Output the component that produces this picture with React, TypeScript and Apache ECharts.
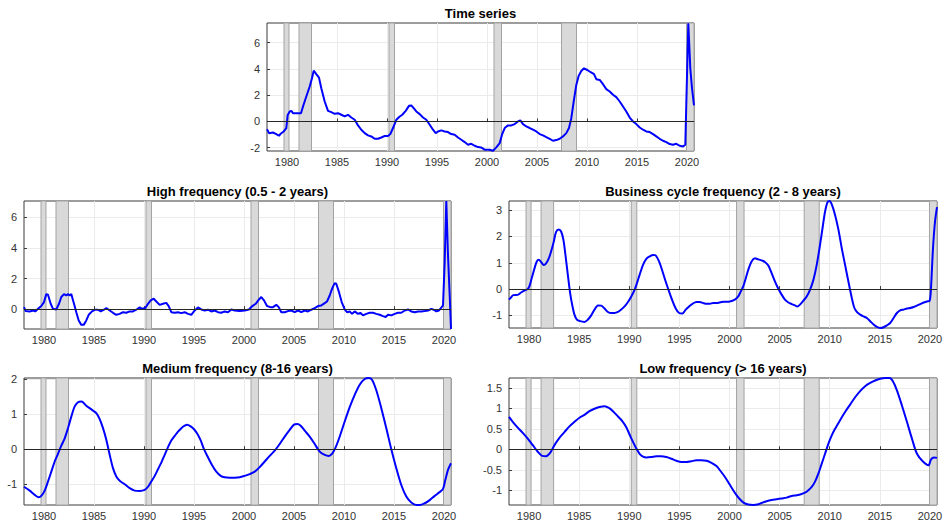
import { useEffect, useRef } from "react";
import * as echarts from "echarts";

const xTickValues = [1980, 1985, 1990, 1995, 2000, 2005, 2010, 2015, 2020];
const tsTicks = [-2, 0, 2, 4, 6];
const highTicks = [0, 2, 4, 6];
const bizTicks = [-1, 0, 1, 2, 3];
const medTicks = [-1, 0, 1, 2];
const lowTicks = [-1, -0.5, 0, 0.5, 1, 1.5];

const recessionStarts = [1979.7, 1981.2, 1990.2, 2000.7, 2007.45, 2019.95];
const recessionEnds = [1980.2, 1982.45, 1990.75, 2001.45, 2008.95, 2020.7];

const timeSeries: [number, number][] = [
  [1978.0,-0.6],[1978.2,-0.89],[1978.6,-0.84],[1978.93,-0.96],[1979.2,-1.09],[1979.33,-0.96],[1979.67,-0.76],[1979.93,-0.5],[1980.07,0.5],[1980.27,0.76],[1980.43,0.81],[1980.6,0.63],[1980.93,0.63],[1981.4,0.63],[1981.6,1.14],[1981.93,1.9],[1982.27,2.66],[1982.5,3.29],[1982.67,3.87],[1982.93,3.6],[1983.2,3.34],[1983.43,2.53],[1983.77,1.52],[1984.1,0.81],[1984.43,0.71],[1984.77,0.58],[1985.1,0.63],[1985.43,0.51],[1985.77,0.38],[1986.1,0.51],[1986.43,0.3],[1986.77,0.13],[1987.1,-0.3],[1987.43,-0.63],[1987.77,-0.89],[1988.1,-1.06],[1988.43,-1.14],[1988.77,-1.32],[1989.1,-1.32],[1989.43,-1.22],[1989.77,-1.11],[1990.1,-1.11],[1990.33,-0.96],[1990.6,-0.5],[1990.93,0.13],[1991.27,0.38],[1991.53,0.51],[1991.87,0.81],[1992.2,1.19],[1992.43,1.22],[1992.67,1.01],[1992.93,0.76],[1993.27,0.56],[1993.6,0.3],[1993.93,0.13],[1994.27,-0.25],[1994.6,-0.63],[1994.87,-0.89],[1995.1,-0.76],[1995.43,-0.68],[1995.77,-0.76],[1996.1,-0.81],[1996.43,-0.96],[1996.77,-1.01],[1997.1,-1.22],[1997.43,-1.39],[1997.77,-1.57],[1998.1,-1.77],[1998.43,-1.7],[1998.77,-1.85],[1999.1,-1.95],[1999.4,-1.98],[1999.77,-2.15],[2000.27,-2.15],[2000.6,-2.23],[2000.93,-1.97],[2001.27,-1.65],[2001.5,-1.01],[2001.77,-0.5],[2002.1,-0.3],[2002.43,-0.3],[2002.77,-0.2],[2003.1,0.0],[2003.33,0.08],[2003.6,-0.2],[2003.93,-0.38],[2004.27,-0.5],[2004.6,-0.63],[2004.93,-0.76],[2005.27,-0.96],[2005.6,-1.06],[2005.93,-1.19],[2006.27,-1.32],[2006.6,-1.47],[2006.93,-1.42],[2007.27,-1.32],[2007.6,-1.14],[2007.93,-0.89],[2008.2,-0.5],[2008.43,0.25],[2008.67,1.52],[2008.93,2.78],[2009.17,3.49],[2009.43,3.85],[2009.7,4.05],[2010.03,3.92],[2010.37,3.75],[2010.7,3.6],[2010.93,3.22],[2011.27,3.16],[2011.6,2.84],[2011.93,2.46],[2012.27,2.28],[2012.6,2.03],[2012.93,1.85],[2013.27,1.52],[2013.6,1.14],[2013.93,0.76],[2014.27,0.3],[2014.6,0.0],[2014.93,-0.2],[2015.27,-0.46],[2015.6,-0.63],[2015.93,-0.76],[2016.27,-0.81],[2016.6,-0.96],[2016.93,-1.14],[2017.27,-1.32],[2017.6,-1.47],[2017.93,-1.57],[2018.27,-1.72],[2018.6,-1.77],[2018.93,-1.7],[2019.27,-1.85],[2019.6,-1.9],[2019.83,-1.77],[2020.13,7.47],[2020.33,4.05],[2020.5,2.53],[2020.7,1.22]
];

const highFreq: [number, number][] = [
  [1978.0,0.13],[1978.17,-0.13],[1978.57,-0.15],[1978.9,-0.09],[1979.13,-0.15],[1979.4,0.02],[1979.73,0.2],[1980.0,0.46],[1980.23,0.98],[1980.4,0.94],[1980.67,0.35],[1980.9,0.02],[1981.23,-0.02],[1981.5,0.35],[1981.73,0.79],[1982.0,0.98],[1982.23,0.89],[1982.4,0.98],[1982.57,0.89],[1982.73,0.98],[1983.0,0.35],[1983.23,-0.2],[1983.47,-0.74],[1983.73,-1.03],[1983.97,-1.03],[1984.23,-0.74],[1984.47,-0.37],[1984.8,-0.15],[1985.13,-0.04],[1985.4,-0.04],[1985.67,-0.15],[1986.0,-0.04],[1986.23,0.07],[1986.57,-0.09],[1986.9,-0.24],[1987.23,-0.37],[1987.57,-0.31],[1987.9,-0.2],[1988.23,-0.24],[1988.57,-0.15],[1988.9,-0.15],[1989.23,-0.04],[1989.57,0.11],[1989.8,0.02],[1990.13,0.07],[1990.4,0.35],[1990.67,0.57],[1990.97,0.68],[1991.23,0.5],[1991.57,0.28],[1991.9,0.35],[1992.23,0.41],[1992.47,0.2],[1992.73,-0.2],[1993.07,-0.24],[1993.4,-0.2],[1993.73,-0.26],[1994.07,-0.2],[1994.4,-0.31],[1994.73,-0.37],[1995.07,-0.09],[1995.4,0.11],[1995.73,-0.02],[1996.07,-0.09],[1996.4,-0.04],[1996.73,-0.15],[1997.07,-0.09],[1997.4,-0.2],[1997.73,-0.24],[1998.07,-0.15],[1998.4,-0.2],[1998.73,-0.02],[1999.07,-0.09],[1999.57,-0.13],[2000.07,-0.09],[2000.5,-0.02],[2000.83,0.2],[2001.17,0.35],[2001.5,0.63],[2001.73,0.79],[2002.0,0.57],[2002.3,0.2],[2002.63,0.13],[2002.9,0.13],[2003.23,0.28],[2003.47,0.13],[2003.73,-0.2],[2004.07,-0.2],[2004.4,-0.13],[2004.73,-0.09],[2005.07,-0.2],[2005.4,-0.09],[2005.73,-0.2],[2006.07,-0.09],[2006.4,-0.15],[2006.73,-0.04],[2007.07,0.07],[2007.4,0.2],[2007.73,0.24],[2008.07,0.39],[2008.3,0.5],[2008.57,0.89],[2008.83,1.37],[2009.07,1.7],[2009.23,1.66],[2009.5,1.11],[2009.77,0.46],[2010.07,-0.02],[2010.3,-0.2],[2010.57,-0.15],[2010.8,-0.31],[2011.07,-0.15],[2011.4,-0.31],[2011.63,-0.24],[2011.9,-0.41],[2012.23,-0.31],[2012.57,-0.24],[2012.9,-0.24],[2013.23,-0.31],[2013.57,-0.37],[2013.9,-0.46],[2014.17,-0.52],[2014.4,-0.37],[2014.73,-0.41],[2015.07,-0.31],[2015.4,-0.24],[2015.73,-0.24],[2016.07,-0.09],[2016.4,-0.02],[2016.73,-0.15],[2017.07,-0.2],[2017.4,-0.15],[2017.73,-0.15],[2018.07,-0.13],[2018.4,-0.09],[2018.73,0.02],[2018.97,-0.04],[2019.23,-0.15],[2019.5,-0.09],[2019.77,0.13],[2019.9,0.24],[2020.07,3.08],[2020.23,7.07],[2020.4,3.51],[2020.57,0.89],[2020.7,-1.3]
];

const businessCycle: [number, number][] = [
  [1978.0,-0.4],[1978.2,-0.32],[1978.43,-0.23],[1978.87,-0.22],[1979.2,-0.13],[1979.53,-0.06],[1979.87,0.0],[1980.03,0.1],[1980.27,0.42],[1980.53,0.77],[1980.77,1.05],[1980.97,1.12],[1981.2,1.03],[1981.47,0.92],[1981.7,0.98],[1981.97,1.17],[1982.2,1.43],[1982.47,1.81],[1982.7,2.18],[1982.97,2.27],[1983.2,2.19],[1983.43,1.87],[1983.63,1.3],[1983.87,0.54],[1984.1,-0.15],[1984.3,-0.59],[1984.53,-0.97],[1984.77,-1.16],[1985.1,-1.22],[1985.53,-1.25],[1985.87,-1.16],[1986.2,-1.0],[1986.53,-0.78],[1986.87,-0.62],[1987.2,-0.63],[1987.53,-0.74],[1987.87,-0.87],[1988.2,-0.91],[1988.53,-0.91],[1988.87,-0.87],[1989.2,-0.78],[1989.53,-0.66],[1989.87,-0.49],[1990.2,-0.28],[1990.53,-0.03],[1990.77,0.23],[1991.03,0.54],[1991.37,0.92],[1991.7,1.15],[1992.03,1.24],[1992.37,1.3],[1992.63,1.28],[1992.97,1.05],[1993.3,0.69],[1993.63,0.29],[1993.97,-0.09],[1994.3,-0.44],[1994.63,-0.74],[1994.97,-0.91],[1995.3,-0.93],[1995.63,-0.78],[1995.97,-0.66],[1996.3,-0.56],[1996.7,-0.49],[1997.03,-0.49],[1997.37,-0.53],[1997.7,-0.56],[1998.03,-0.56],[1998.37,-0.53],[1998.7,-0.53],[1999.2,-0.49],[1999.53,-0.48],[2000.03,-0.47],[2000.53,-0.4],[2000.87,-0.28],[2001.1,-0.11],[2001.37,0.1],[2001.63,0.42],[2001.87,0.73],[2002.2,1.05],[2002.53,1.17],[2002.87,1.13],[2003.2,1.09],[2003.53,1.03],[2003.87,0.9],[2004.2,0.61],[2004.53,0.29],[2004.87,0.01],[2005.2,-0.21],[2005.53,-0.4],[2005.87,-0.51],[2006.2,-0.57],[2006.53,-0.62],[2006.77,-0.66],[2007.03,-0.59],[2007.37,-0.44],[2007.7,-0.28],[2008.03,-0.03],[2008.37,0.35],[2008.7,0.92],[2009.03,1.68],[2009.3,2.37],[2009.53,2.94],[2009.77,3.3],[2009.97,3.35],[2010.2,3.22],[2010.53,2.82],[2010.87,2.25],[2011.2,1.55],[2011.53,0.92],[2011.87,0.27],[2012.2,-0.34],[2012.43,-0.69],[2012.7,-0.87],[2013.03,-0.97],[2013.37,-1.04],[2013.7,-1.1],[2014.03,-1.22],[2014.37,-1.35],[2014.7,-1.44],[2015.03,-1.48],[2015.37,-1.45],[2015.7,-1.38],[2016.03,-1.29],[2016.37,-1.1],[2016.7,-0.91],[2017.03,-0.81],[2017.37,-0.78],[2017.7,-0.74],[2018.03,-0.72],[2018.37,-0.68],[2018.7,-0.63],[2019.03,-0.57],[2019.37,-0.51],[2019.7,-0.47],[2019.97,-0.44],[2020.1,0.04],[2020.3,1.55],[2020.5,2.56],[2020.7,3.12]
];

const mediumFreq: [number, number][] = [
  [1978.0,-1.07],[1978.57,-1.18],[1979.07,-1.3],[1979.47,-1.37],[1979.73,-1.33],[1980.07,-1.18],[1980.4,-0.92],[1980.73,-0.64],[1981.07,-0.35],[1981.4,-0.13],[1981.73,0.1],[1982.07,0.31],[1982.4,0.6],[1982.73,0.93],[1983.07,1.22],[1983.4,1.34],[1983.73,1.36],[1983.9,1.34],[1984.23,1.24],[1984.57,1.17],[1984.9,1.1],[1985.23,1.03],[1985.57,0.86],[1985.9,0.6],[1986.23,0.27],[1986.57,-0.16],[1986.9,-0.54],[1987.23,-0.78],[1987.57,-0.9],[1988.07,-1.0],[1988.57,-1.11],[1989.07,-1.18],[1989.57,-1.19],[1990.07,-1.16],[1990.4,-1.07],[1990.73,-0.92],[1991.07,-0.76],[1991.4,-0.57],[1991.73,-0.38],[1992.07,-0.16],[1992.4,0.06],[1992.73,0.25],[1993.07,0.38],[1993.4,0.5],[1993.73,0.6],[1994.07,0.67],[1994.33,0.7],[1994.67,0.65],[1995.0,0.57],[1995.33,0.44],[1995.67,0.25],[1996.0,0.0],[1996.4,-0.23],[1996.8,-0.45],[1997.23,-0.64],[1997.67,-0.76],[1998.07,-0.8],[1998.57,-0.81],[1999.07,-0.81],[1999.57,-0.8],[2000.07,-0.76],[2000.57,-0.71],[2001.07,-0.64],[2001.57,-0.51],[2002.07,-0.35],[2002.57,-0.19],[2003.07,-0.04],[2003.57,0.15],[2004.07,0.36],[2004.57,0.55],[2005.0,0.7],[2005.33,0.72],[2005.67,0.67],[2006.07,0.53],[2006.57,0.36],[2007.07,0.15],[2007.57,-0.07],[2008.07,-0.16],[2008.47,-0.19],[2008.8,-0.13],[2009.13,0.03],[2009.57,0.36],[2010.07,0.79],[2010.57,1.2],[2011.07,1.55],[2011.57,1.84],[2012.07,2.0],[2012.47,2.03],[2012.8,1.98],[2013.23,1.68],[2013.73,1.17],[2014.23,0.6],[2014.73,0.0],[2015.23,-0.54],[2015.73,-1.02],[2016.23,-1.35],[2016.73,-1.52],[2017.23,-1.59],[2017.57,-1.59],[2018.07,-1.54],[2018.57,-1.45],[2019.07,-1.33],[2019.57,-1.22],[2019.9,-1.13],[2020.13,-0.88],[2020.4,-0.59],[2020.7,-0.4]
];

const lowFreq: [number, number][] = [
  [1978.0,0.79],[1978.37,0.67],[1978.87,0.53],[1979.37,0.4],[1979.87,0.26],[1980.37,0.1],[1980.87,-0.06],[1981.3,-0.16],[1981.7,-0.17],[1982.1,-0.09],[1982.53,0.1],[1983.03,0.28],[1983.53,0.42],[1984.03,0.56],[1984.53,0.67],[1985.03,0.77],[1985.53,0.84],[1986.03,0.93],[1986.53,0.99],[1987.03,1.03],[1987.53,1.05],[1987.97,1.01],[1988.37,0.93],[1988.87,0.8],[1989.3,0.69],[1989.7,0.54],[1990.03,0.36],[1990.37,0.18],[1990.7,0.02],[1991.03,-0.11],[1991.37,-0.18],[1991.7,-0.2],[1992.2,-0.19],[1992.7,-0.17],[1993.2,-0.17],[1993.7,-0.19],[1994.2,-0.23],[1994.7,-0.28],[1995.2,-0.31],[1995.7,-0.31],[1996.2,-0.29],[1996.7,-0.27],[1997.2,-0.27],[1997.7,-0.28],[1998.2,-0.33],[1998.7,-0.41],[1999.1,-0.53],[1999.53,-0.67],[1999.97,-0.84],[2000.37,-1.0],[2000.7,-1.12],[2001.03,-1.22],[2001.43,-1.31],[2001.87,-1.35],[2002.37,-1.36],[2002.77,-1.35],[2003.2,-1.31],[2003.7,-1.27],[2004.2,-1.24],[2004.7,-1.22],[2005.2,-1.2],[2005.7,-1.18],[2006.2,-1.14],[2006.7,-1.12],[2007.2,-1.09],[2007.53,-1.06],[2007.87,-1.0],[2008.2,-0.92],[2008.53,-0.79],[2008.87,-0.59],[2009.2,-0.35],[2009.53,-0.11],[2009.87,0.14],[2010.2,0.34],[2010.53,0.5],[2011.03,0.71],[2011.53,0.91],[2012.03,1.09],[2012.53,1.27],[2013.03,1.42],[2013.53,1.54],[2014.03,1.62],[2014.53,1.68],[2015.03,1.72],[2015.53,1.74],[2015.97,1.74],[2016.3,1.66],[2016.7,1.44],[2017.2,1.07],[2017.7,0.67],[2018.2,0.26],[2018.7,-0.11],[2019.3,-0.3],[2019.85,-0.39],[2020.1,-0.25],[2020.4,-0.2],[2020.7,-0.21]
];

const panels = [
  { title: "Time series", data: timeSeries, yMin: -2.25, yMax: 7.5, yTicks: tsTicks, smooth: false, left: 267, top: 23, width: 427, height: 128 },
  { title: "High frequency (0.5 - 2 years)", data: highFreq, yMin: -1.3, yMax: 7.07, yTicks: highTicks, smooth: false, left: 24, top: 201, width: 427, height: 128 },
  { title: "Business cycle frequency (2 - 8 years)", data: businessCycle, yMin: -1.48, yMax: 3.35, yTicks: bizTicks, smooth: 0.3, left: 509, top: 201, width: 428, height: 127 },
  { title: "Medium frequency (8-16 years)", data: mediumFreq, yMin: -1.59, yMax: 2.03, yTicks: medTicks, smooth: 0.3, left: 24, top: 378, width: 427, height: 127 },
  { title: "Low frequency (> 16 years)", data: lowFreq, yMin: -1.36, yMax: 1.74, yTicks: lowTicks, smooth: 0.3, left: 509, top: 378, width: 428, height: 127 },
];

const FONT = "'Liberation Sans', Arial, Helvetica, sans-serif";

export default function App() {
  const ref = useRef<HTMLDivElement>(null);
  useEffect(() => {
    if (!ref.current) return;
    const chart = echarts.init(ref.current, undefined, { renderer: "svg" });
    const recessionAreas = recessionStarts.map((s, i) => [{ xAxis: s }, { xAxis: recessionEnds[i] }]);
    const option: any = {
      animation: false,
      backgroundColor: "#ffffff",
      grid: panels.map((p) => ({
        left: p.left, top: p.top, width: p.width, height: p.height,
        show: true, borderColor: "#3a3a3a", borderWidth: 1, backgroundColor: "transparent",
        containLabel: false, outerBoundsMode: "none",
      })),
      xAxis: panels.map((p, i) => ({
        type: "value", gridIndex: i, min: 1978, max: 2020.7,
        axisLine: { show: false },
        axisTick: { show: true, inside: true, length: 3, customValues: xTickValues, lineStyle: { color: "#3a3a3a" } },
        axisLabel: { customValues: xTickValues, formatter: (v: number) => String(v), color: "#333333", fontSize: 11, fontFamily: FONT, margin: 5 },
        splitLine: { show: true, lineStyle: { color: "#ebebeb", width: 1 } },
      })),
      yAxis: panels.map((p, i) => ({
        type: "value", gridIndex: i, min: p.yMin, max: p.yMax,
        axisLine: { show: false },
        axisTick: { show: true, inside: true, length: 3, customValues: p.yTicks, lineStyle: { color: "#3a3a3a" } },
        axisLabel: { customValues: p.yTicks, formatter: (v: number) => String(v), color: "#333333", fontSize: 11, fontFamily: FONT, margin: 7 },
        splitLine: { show: true, lineStyle: { color: "#ebebeb", width: 1 } },
      })),
      series: panels.map((p, i) => ({
        type: "line", xAxisIndex: i, yAxisIndex: i, data: p.data,
        showSymbol: false, symbol: "none", smooth: p.smooth, clip: true,
        lineStyle: { color: "#0000ff", width: 2 },
        z: 3,
        markArea: {
          silent: true,
          itemStyle: { color: "#d9d9d9", borderColor: "#a3a3a3", borderWidth: 1 },
          data: recessionAreas,
        },
        markLine: {
          silent: true, symbol: ["none", "none"], label: { show: false },
          lineStyle: { color: "#262626", width: 1, type: "solid" },
          emphasis: { disabled: true },
          data: [{ yAxis: 0 }],
        },
      })),
      graphic: panels.map((p) => ({
        type: "text",
        x: p.left + p.width / 2,
        y: p.top - 10,
        style: {
          text: p.title, fill: "#000000", font: `bold 13px ${FONT}`,
          textAlign: "center", textVerticalAlign: "middle",
        },
      })),
    };
    chart.setOption(option);
    return () => chart.dispose();
  }, []);
  return <div ref={ref} style={{ position: "fixed", left: 0, top: 0, width: 945, height: 527, background: "#fff" }} />;
}
